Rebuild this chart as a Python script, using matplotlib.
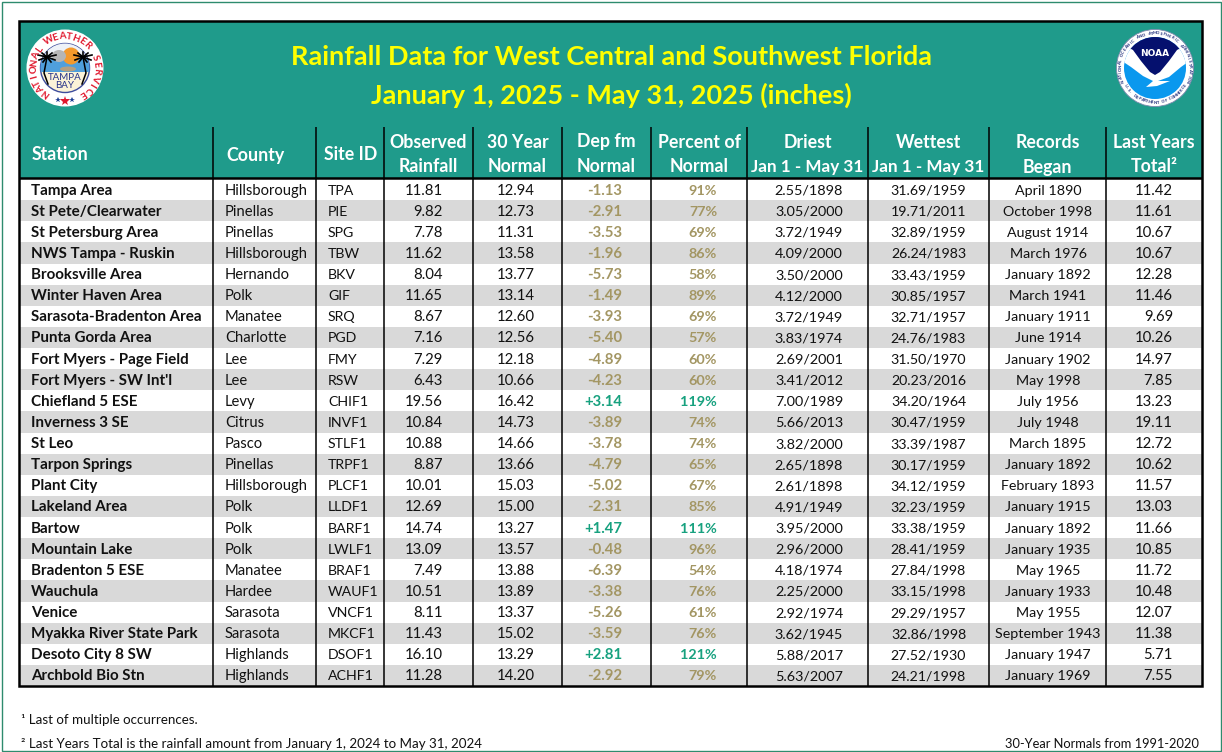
import numpy as np
import matplotlib
matplotlib.use("Agg")
import matplotlib.pyplot as plt
from matplotlib.patches import Circle, Polygon, Rectangle, Ellipse

plt.rcParams["font.family"] = ["Lato", "DejaVu Sans"]

# Table contents, one list per column.
stations = ["Tampa Area", "St Pete/Clearwater", "St Petersburg Area", "NWS Tampa - Ruskin",
            "Brooksville Area", "Winter Haven Area", "Sarasota-Bradenton Area", "Punta Gorda Area",
            "Fort Myers - Page Field", "Fort Myers - SW Int'l", "Chiefland 5 ESE", "Inverness 3 SE",
            "St Leo", "Tarpon Springs", "Plant City", "Lakeland Area", "Bartow", "Mountain Lake",
            "Bradenton 5 ESE", "Wauchula", "Venice", "Myakka River State Park", "Desoto City 8 SW",
            "Archbold Bio Stn"]
counties = ["Hillsborough", "Pinellas", "Pinellas", "Hillsborough", "Hernando", "Polk", "Manatee",
            "Charlotte", "Lee", "Lee", "Levy", "Citrus", "Pasco", "Pinellas", "Hillsborough", "Polk",
            "Polk", "Polk", "Manatee", "Hardee", "Sarasota", "Sarasota", "Highlands", "Highlands"]
site_ids = ["TPA", "PIE", "SPG", "TBW", "BKV", "GIF", "SRQ", "PGD", "FMY", "RSW", "CHIF1", "INVF1",
            "STLF1", "TRPF1", "PLCF1", "LLDF1", "BARF1", "LWLF1", "BRAF1", "WAUF1", "VNCF1", "MKCF1",
            "DSOF1", "ACHF1"]
observed = ["11.81", "9.82", "7.78", "11.62", "8.04", "11.65", "8.67", "7.16", "7.29", "6.43", "19.56",
            "10.84", "10.88", "8.87", "10.01", "12.69", "14.74", "13.09", "7.49", "10.51", "8.11",
            "11.43", "16.10", "11.28"]
normal = ["12.94", "12.73", "11.31", "13.58", "13.77", "13.14", "12.60", "12.56", "12.18", "10.66",
          "16.42", "14.73", "14.66", "13.66", "15.03", "15.00", "13.27", "13.57", "13.88", "13.89",
          "13.37", "15.02", "13.29", "14.20"]
departure = ["-1.13", "-2.91", "-3.53", "-1.96", "-5.73", "-1.49", "-3.93", "-5.40", "-4.89", "-4.23",
             "+3.14", "-3.89", "-3.78", "-4.79", "-5.02", "-2.31", "+1.47", "-0.48", "-6.39", "-3.38",
             "-5.26", "-3.59", "+2.81", "-2.92"]
percent = ["91%", "77%", "69%", "86%", "58%", "89%", "69%", "57%", "60%", "60%", "119%", "74%", "74%",
           "65%", "67%", "85%", "111%", "96%", "54%", "76%", "61%", "76%", "121%", "79%"]
driest = ["2.55/1898", "3.05/2000", "3.72/1949", "4.09/2000", "3.50/2000", "4.12/2000", "3.72/1949",
          "3.83/1974", "2.69/2001", "3.41/2012", "7.00/1989", "5.66/2013", "3.82/2000", "2.65/1898",
          "2.61/1898", "4.91/1949", "3.95/2000", "2.96/2000", "4.18/1974", "2.25/2000", "2.92/1974",
          "3.62/1945", "5.88/2017", "5.63/2007"]
wettest = ["31.69/1959", "19.71/2011", "32.89/1959", "26.24/1983", "33.43/1959", "30.85/1957",
           "32.71/1957", "24.76/1983", "31.50/1970", "20.23/2016", "34.20/1964", "30.47/1959",
           "33.39/1987", "30.17/1959", "34.12/1959", "32.23/1959", "33.38/1959", "28.41/1959",
           "27.84/1998", "33.15/1998", "29.29/1957", "32.86/1998", "27.52/1930", "24.21/1998"]
records = ["April 1890", "October 1998", "August 1914", "March 1976", "January 1892", "March 1941",
           "January 1911", "June 1914", "January 1902", "May 1998", "July 1956", "July 1948", "March 1895",
           "January 1892", "February 1893", "January 1915", "January 1892", "January 1935", "May 1965",
           "January 1933", "May 1955", "September 1943", "January 1947", "January 1969"]
last_year = ["11.42", "11.61", "10.67", "10.67", "12.28", "11.46", "9.69", "10.26", "14.97", "7.85",
             "13.23", "19.11", "12.72", "10.62", "11.57", "13.03", "11.66", "10.85", "11.72", "10.48",
             "12.07", "11.38", "5.71", "7.55"]
headers = [["Station"], ["County"], ["Site ID"], ["Observed", "Rainfall"], ["30 Year", "Normal"],
           ["Dep fm", "Normal"], ["Percent of", "Normal"], ["Driest", "Jan 1 - May 31"],
           ["Wettest", "Jan 1 - May 31"], ["Records", "Began"], ["Last Years", "Total²"]]

TEAL = "#1f9b8b"
GRAY = "#d9d9d9"
TAN = "#a39663"
GREEN = "#17a17f"
INK = "#111111"

# Column edges and row area, in image pixels.
col_edges = [19, 213, 316, 384, 473, 562, 651, 747, 868, 989, 1106, 1202]
header_left = [32, 226, 324]
table_top, header_top, rows_top, table_bottom = 21, 127, 179, 686
row_h = (table_bottom - rows_top) / len(stations)

fig = plt.figure(figsize=(12.22, 7.52), dpi=100)
ax = fig.add_axes([0, 0, 1, 1])
ax.set_xlim(0, 1222)
ax.set_ylim(752, 0)
ax.axis("off")


def circle_text(cx, cy, r, s, start, end, flip=False, **kw):
    # Letters along an arc, angles in degrees clockwise from the top.
    for ch, t in zip(s, np.radians(np.linspace(start, end, len(s)))):
        rot = -np.degrees(t) + (180 if flip else 0)
        ax.text(cx + r * np.sin(t), cy - r * np.cos(t), ch, rotation=rot,
                ha="center", va="center", **kw)


def draw_nws_logo(cx, cy):
    ax.add_patch(Circle((cx, cy), 38.5, fc="white", ec="none", zorder=3))
    circle_text(cx, cy, 31.5, "NATIONAL WEATHER SERVICE", -143, 146, color="#e0182d", fontsize=7,
                fontweight="bold", zorder=7)
    for t, c, s in [(-13, "#1c3f94", 4), (0, "#e0182d", 7), (13, "#1c3f94", 4)]:
        a = np.radians(t)
        ax.plot(cx + 33 * np.sin(a), cy + 33 * np.cos(a), marker="*", color=c, ms=s, mew=0, zorder=5)
    disc = Circle((cx, cy), 24.5, fc="#fbf3d8", ec="#3d4c9c", lw=1, zorder=4)
    ax.add_patch(disc)
    sky = Rectangle((cx - 25, cy - 25), 50, 15, fc="#eef2f8", ec="none", zorder=4)
    water = Rectangle((cx - 25, cy - 10), 50, 14, fc="#4f9fdc", ec="none", zorder=4)
    ax.add_patch(sky)
    ax.add_patch(water)
    sky.set_clip_path(disc)
    water.set_clip_path(disc)
    ax.add_patch(Circle((cx + 6, cy - 12), 8.5, fc="#f4992c", ec="none", zorder=4.2))
    ax.add_patch(Ellipse((cx - 6, cy - 12), 14, 12, fc="#b5b5b5", ec="none", zorder=4.3))
    ax.add_patch(Ellipse((cx + 3, cy + 1), 16, 5, fc="#b59f80", ec="none", zorder=4.3))
    # Palm trees on both sides of the disc.
    for side in (-1, 1):
        tx, ty = cx + side * 18, cy - 11
        ax.plot([tx, tx + side * 3, tx - side * 1], [ty, ty + 16, ty + 27], color="black", lw=1.1, zorder=5)
        for dx, dy in [(-9, -2), (-8, 3), (-4, 5), (0, -5), (4, 5), (8, 3), (9, -2), (5, -4), (-5, -4)]:
            ax.plot([tx, tx + dx], [ty, ty + dy], color="black", lw=1.2, zorder=5)
    ax.text(cx, cy + 9, "TAMPA", ha="center", va="center", fontsize=7, color="#27338a", zorder=6)
    ax.text(cx, cy + 18, "BAY", ha="center", va="center", fontsize=7, color="#27338a", zorder=6)


def draw_noaa_logo(cx, cy):
    ax.add_patch(Circle((cx, cy), 38.5, fc="white", ec="#7f8ab0", lw=0.6, zorder=3))
    circle_text(cx, cy, 34.7, "NATIONAL OCEANIC AND ATMOSPHERIC ADMINISTRATION", -112, 112,
                color="#1b2a78", fontsize=3, fontweight="bold", zorder=5)
    circle_text(cx, cy, 34.7, "U.S. DEPARTMENT OF COMMERCE", 240, 120, flip=True, color="#1b2a78",
                fontsize=3, fontweight="bold", zorder=5)
    disc = Circle((cx, cy), 31, fc="#0a98ee", ec="none", zorder=4)
    ax.add_patch(disc)
    wing = Polygon([(cx - 33, cy - 22), (cx + 33, cy - 22), (cx + 33, cy - 6), (cx + 26, cy - 1),
                    (cx + 14, cy + 9), (cx + 3, cy + 13), (cx + 15, cy + 13), (cx + 2, cy + 18),
                    (cx - 9, cy + 19), (cx - 2, cy + 13), (cx - 12, cy + 8), (cx - 24, cy - 1),
                    (cx - 33, cy - 7)], fc="white", ec="none", zorder=4.2)
    navy = Polygon([(cx - 33, cy - 34), (cx + 33, cy - 34), (cx + 33, cy - 24), (cx + 22, cy - 18),
                    (cx + 14, cy - 7), (cx + 5, cy + 4), (cx, cy + 7), (cx - 5, cy + 4),
                    (cx - 14, cy - 7), (cx - 22, cy - 18), (cx - 33, cy - 24)],
                   fc="#05106e", ec="none", zorder=4.4)
    ax.add_patch(wing)
    ax.add_patch(navy)
    wing.set_clip_path(disc)
    navy.set_clip_path(disc)
    ax.text(cx, cy - 15, "NOAA", ha="center", va="center", color="white", fontsize=6.5,
            fontweight="bold", family="DejaVu Sans", zorder=6)


# Outer frame, header band and striped rows.
ax.add_patch(Rectangle((1.5, 1.5), 1219, 749, fc="white", ec="#2e8b6e", lw=1))
ax.add_patch(Rectangle((col_edges[0], table_top), col_edges[-1] - col_edges[0], rows_top - table_top,
                       fc=TEAL, ec="none"))
for i in range(1, len(stations), 2):
    ax.add_patch(Rectangle((col_edges[0], rows_top + i * row_h), col_edges[-1] - col_edges[0], row_h,
                           fc=GRAY, ec="none"))

# Column rules, header rule and black table border.
for x in col_edges[1:-1]:
    ax.plot([x, x], [header_top, table_bottom], color="black", lw=1.1, solid_capstyle="butt")
ax.plot(col_edges[::len(col_edges) - 1], [178, 178], color="black", lw=1.8, solid_capstyle="butt")
ax.add_patch(Rectangle((col_edges[0], table_top), col_edges[-1] - col_edges[0], table_bottom - table_top,
                       fc="none", ec="black", lw=1.8, zorder=2.5))

# Title block.
ax.text(611.5, 57, "Rainfall Data for West Central and Southwest Florida", color="#ffff00", fontsize=19.5,
        fontweight="bold", ha="center", va="center")
ax.text(611, 95, "January 1, 2025 - May 31, 2025 (inches)", color="#ffff00", fontsize=19.5,
        fontweight="bold", ha="center", va="center")
draw_nws_logo(65, 68)
draw_noaa_logo(1155, 68)

# Column headers.
for j, lines in enumerate(headers):
    if len(lines) == 1:
        ax.text(header_left[j], 155, lines[0], color="white", fontsize=12.8, fontweight="bold",
                va="center", ha="left")
    else:
        x = (col_edges[j] + col_edges[j + 1]) / 2
        fs = 12.3 if lines[1].startswith("Jan") else 12.8
        ax.text(x, 142, lines[0], color="white", fontsize=12.8, fontweight="bold", ha="center", va="center")
        ax.text(x, 167, lines[1], color="white", fontsize=fs, fontweight="bold", ha="center", va="center")

# Table rows.
body = dict(va="center", color=INK)
for i in range(len(stations)):
    y = rows_top + (i + 0.5) * row_h + 1
    tone = GREEN if departure[i].startswith("+") else TAN
    ax.text(31, y, stations[i], ha="left", fontweight="bold", fontsize=10.9, **body)
    ax.text(225, y, counties[i], ha="left", fontsize=10.6, **body)
    ax.text(328, y, site_ids[i], ha="left", fontsize=10.2, **body)
    ax.text(443, y, observed[i], ha="right", fontsize=10.7, **body)
    ax.text(535, y, normal[i], ha="right", fontsize=10.7, **body)
    ax.text(622, y, departure[i], ha="right", fontsize=10.7, va="center", color=tone, fontweight="bold")
    ax.text(717, y, percent[i], ha="right", fontsize=10.4, va="center", color=tone, fontweight="bold")
    ax.text(809, y, driest[i], ha="center", fontsize=10.4, **body)
    ax.text(928.5, y, wettest[i], ha="center", fontsize=10.2, **body)
    ax.text(1048, y, records[i], ha="center", fontsize=10.3, **body)
    ax.text(1173, y, last_year[i], ha="right", fontsize=10.7, **body)

# Footnotes.
ax.text(21, 720, "¹ Last of multiple occurrences.", fontsize=9.6, color=INK, va="center")
ax.text(21, 744, "² Last Years Total is the rainfall amount from January 1, 2024 to May 31, 2024",
        fontsize=9.65, color=INK, va="center")
ax.text(1199, 744, "30-Year Normals from 1991-2020", fontsize=9.3, color=INK, va="center", ha="right")

fig.savefig("out.png", dpi=100)
